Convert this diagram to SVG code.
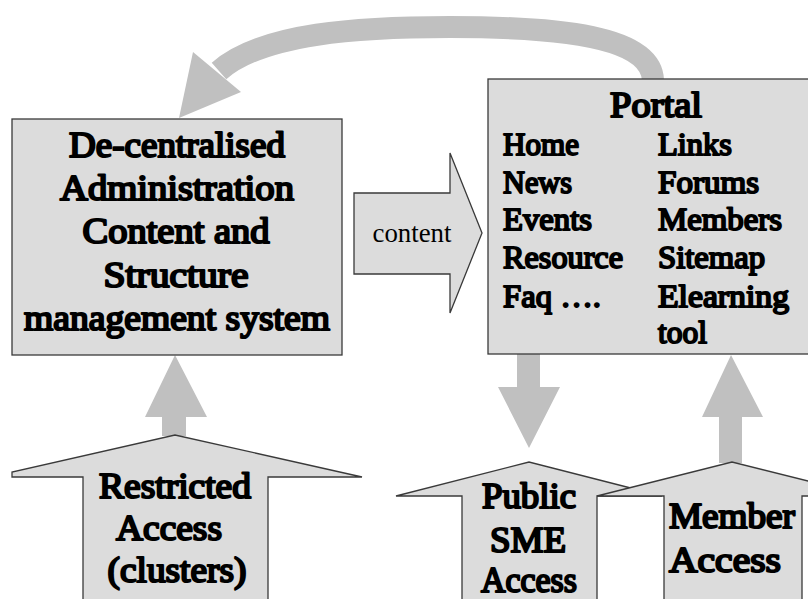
<svg xmlns="http://www.w3.org/2000/svg" width="808" height="599" viewBox="0 0 808 599">
  <style>
    .box { fill: #dcdcdc; stroke: #3a3a3a; stroke-width: 1.3; }
    .flow { fill: #c0c0c0; stroke: none; }
    /* heavy serif lettering: regular face thickened with a stroke */
    .t { font-family: "Liberation Serif", "Times New Roman", serif; font-weight: normal; fill: #000; stroke: #000; stroke-linejoin: round; }
    .big { font-size: 35px; text-anchor: middle; stroke-width: 2.1; }
    .item { font-size: 31px; stroke-width: 1.9; }
    .lbl { font-family: "Liberation Serif", "Times New Roman", serif; font-size: 27px; text-anchor: middle; fill: #000; }
  </style>

  <!-- connectors -->
  <g id="connectors">
    <!-- feedback arc from Portal back to the administration system -->
    <path d="M653,80 C651,36 560,27 450,27 C360,27 262,33 219,71" fill="none" stroke="#c0c0c0" stroke-width="22"/>
    <polygon class="flow" points="179,118 193,52 241,92"/>
    <!-- Restricted access up into administration -->
    <polygon class="flow" points="162,436 162,417 145,417 175,355 207,417 186,417 186,436"/>
    <!-- Portal down to public access -->
    <polygon class="flow" points="517,354 540,354 540,387 560,387 529,448 498,387 517,387"/>
    <!-- Member access up into Portal -->
    <polygon class="flow" points="719,463 719,417 702,417 731,355 763,417 742,417 742,463"/>
    <!-- content flow -->
    <polygon class="box" points="354,193 450,193 450,153 482,233 450,313 450,274 354,274"/>
    <text class="lbl" x="412" y="242" textLength="79" lengthAdjust="spacingAndGlyphs">content</text>
  </g>

  <!-- administration system -->
  <g id="cms">
    <rect class="box" x="12" y="119" width="330" height="236"/>
    <text class="t big" x="177" y="157" textLength="216" lengthAdjust="spacingAndGlyphs">De-centralised</text>
    <text class="t big" x="177" y="200" textLength="234" lengthAdjust="spacingAndGlyphs">Administration</text>
    <text class="t big" x="176" y="243" textLength="187" lengthAdjust="spacingAndGlyphs">Content and</text>
    <text class="t big" x="176" y="287" textLength="145" lengthAdjust="spacingAndGlyphs">Structure</text>
    <text class="t big" x="177" y="330" textLength="306" lengthAdjust="spacingAndGlyphs">management system</text>
  </g>

  <!-- portal -->
  <g id="portal">
    <rect class="box" x="488" y="79" width="340" height="275"/>
    <text class="t big" x="656" y="117" textLength="92" lengthAdjust="spacingAndGlyphs">Portal</text>
    <text class="t item" x="503" y="155" textLength="76" lengthAdjust="spacingAndGlyphs">Home</text>
    <text class="t item" x="503" y="193" textLength="69" lengthAdjust="spacingAndGlyphs">News</text>
    <text class="t item" x="503" y="230" textLength="89" lengthAdjust="spacingAndGlyphs">Events</text>
    <text class="t item" x="503" y="268" textLength="120" lengthAdjust="spacingAndGlyphs">Resource</text>
    <text class="t item" x="503" y="307" textLength="98" lengthAdjust="spacingAndGlyphs">Faq ….</text>
    <text class="t item" x="658" y="155" textLength="74" lengthAdjust="spacingAndGlyphs">Links</text>
    <text class="t item" x="658" y="193" textLength="101" lengthAdjust="spacingAndGlyphs">Forums</text>
    <text class="t item" x="658" y="230" textLength="124" lengthAdjust="spacingAndGlyphs">Members</text>
    <text class="t item" x="658" y="268" textLength="107" lengthAdjust="spacingAndGlyphs">Sitemap</text>
    <text class="t item" x="658" y="307" textLength="131" lengthAdjust="spacingAndGlyphs">Elearning</text>
    <text class="t item" x="658" y="343" textLength="49" lengthAdjust="spacingAndGlyphs">tool</text>
  </g>

  <!-- restricted access -->
  <g id="restricted">
    <polygon class="box" points="83,600 83,477 12,477 12,472 175,435 362,477 268,477 268,600"/>
    <text class="t big" x="175" y="498" textLength="152" lengthAdjust="spacingAndGlyphs">Restricted</text>
    <text class="t big" x="169" y="540" textLength="106" lengthAdjust="spacingAndGlyphs">Access</text>
    <text class="t big" x="177" y="582" textLength="139" lengthAdjust="spacingAndGlyphs">(clusters)</text>
  </g>

  <!-- public SME access -->
  <g id="public">
    <polygon class="box" points="462,600 462,496 396,496 529,462 662,496 597,496 597,600"/>
    <text class="t big" x="529" y="508" textLength="94" lengthAdjust="spacingAndGlyphs">Public</text>
    <text class="t big" x="528" y="552" textLength="76" lengthAdjust="spacingAndGlyphs">SME</text>
    <text class="t big" x="529" y="592" textLength="96" lengthAdjust="spacingAndGlyphs">Access</text>
  </g>

  <!-- member access -->
  <g id="member">
    <polygon class="box" points="664,600 664,496 597,496 732,462 868,496 802,496 802,600"/>
    <text class="t big" x="732" y="528" textLength="126" lengthAdjust="spacingAndGlyphs">Member</text>
    <text class="t big" x="725" y="572" textLength="112" lengthAdjust="spacingAndGlyphs">Access</text>
  </g>
</svg>
